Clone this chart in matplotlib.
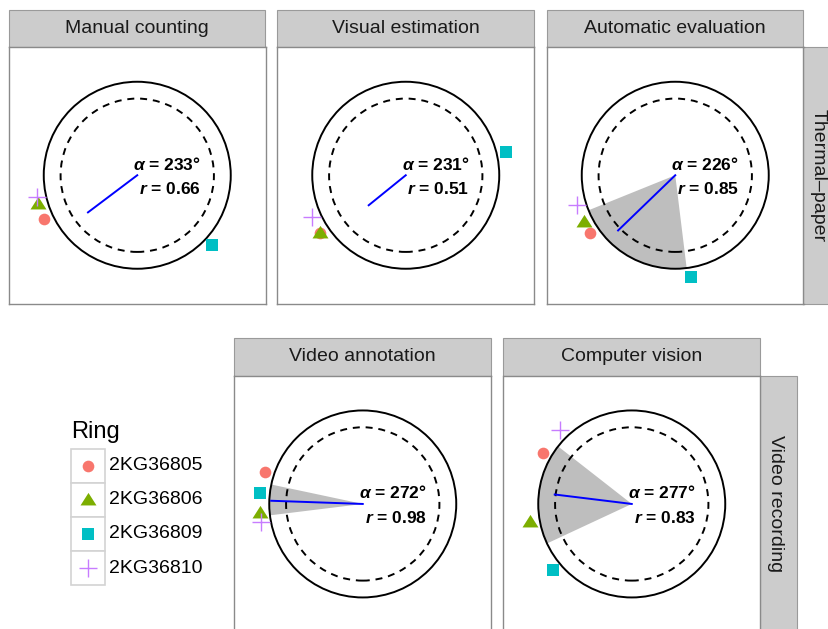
import numpy as np
import matplotlib
matplotlib.use("Agg")
import matplotlib.pyplot as plt
from matplotlib.patches import Rectangle, Polygon, Circle

plt.rcParams['font.family'] = ['Liberation Sans', 'DejaVu Sans']
plt.rcParams['mathtext.fontset'] = 'custom'
plt.rcParams['mathtext.rm'] = 'Liberation Sans'
plt.rcParams['mathtext.it'] = 'Liberation Sans:italic'
plt.rcParams['mathtext.bf'] = 'Liberation Sans:bold'
try:
    plt.rcParams['mathtext.bfit'] = 'Liberation Sans:italic:bold'
    BFIT = True
except KeyError:
    BFIT = False

# ---------------- data ----------------
rings = ["2KG36805", "2KG36806", "2KG36809", "2KG36810"]
ring_colors = ["#F8766D", "#7CAE00", "#00BFC4", "#C77CFF"]

methods = ["Manual counting", "Visual estimation", "Automatic evaluation",
           "Video annotation", "Computer vision"]
groups = ["Thermal\u2013paper", "Video recording"]

# arrival bearings (deg, clockwise from north), order of rings
angles_manual = [245, 254, 133, 258]
angles_visual = [236, 236, 77, 246]
angles_auto = [236, 243, 171, 253]
angles_video = [288, 265, 276, 260]
angles_cv = [300, 260, 230, 316]
angles = [angles_manual, angles_visual, angles_auto, angles_video, angles_cv]

mean_dir = [233, 231, 226, 272, 277]
mean_len = [0.66, 0.51, 0.85, 0.98, 0.83]
ci_low = [None, None, 173, 263, 245]
ci_high = [None, None, 248, 282, 308]

# ---------------- layout ----------------
W, H = 829, 629
fig = plt.figure(figsize=(W / 100, H / 100), dpi=100)

overlay = fig.add_axes([0, 0, 1, 1], zorder=-5)
overlay.set_xlim(0, W)
overlay.set_ylim(H, 0)
overlay.axis("off")

PSIZE = 256.5
panel_pos = [(9, 47), (277.5, 47), (547, 47), (234.5, 375.7), (503.5, 375.7)]
STRIP_H = 37.5
HALF = PSIZE / 2 / 93.5

markers = ["o", [(-1, -0.62), (1, -0.62), (0, 0.95)], "s", "+"]
msizes = [8.4, 11.5, 8.4, 13]

STRIP_FC = "#CCCCCC"
STRIP_EC = "#9A9A9A"
BORDER = "#8A8A8A"


def b2xy(b, r):
    t = np.deg2rad(np.asarray(b, dtype=float))
    return r * np.sin(t), r * np.cos(t)


def draw_marker(ax, x, y, i, **kw):
    if markers[i] == "+":
        ax.plot(x, y, marker="+", ms=msizes[i], mew=1.0, color=ring_colors[i],
                ls="none", **kw)
    else:
        ax.plot(x, y, marker=markers[i], ms=msizes[i], mew=0, color=ring_colors[i],
                ls="none", **kw)


for k, (left, top) in enumerate(panel_pos):
    ax = fig.add_axes([left / W, 1 - (top + PSIZE) / H, PSIZE / W, PSIZE / H])
    ax.set_xlim(-HALF, HALF)
    ax.set_ylim(-HALF, HALF)
    ax.set_xticks([])
    ax.set_yticks([])
    for s in ax.spines.values():
        s.set_color(BORDER)
        s.set_linewidth(1.0)

    # confidence wedge
    if ci_low[k] is not None:
        arc = np.linspace(ci_low[k], ci_high[k], 100)
        ax_, ay_ = b2xy(arc, 1.0)
        verts = [(0, 0)] + list(zip(ax_, ay_))
        ax.add_patch(Polygon(verts, closed=True, fc="#BEBEBE", ec="none", zorder=1))

    ax.add_patch(Circle((0, 0), 1.0, fill=False, ec="black", lw=1.4, zorder=3))
    ax.add_patch(Circle((0, 0), 0.82, fill=False, ec="black", lw=1.4,
                        ls=(0, (3.6, 3.0)), zorder=2))

    # mean vector
    mx, my = b2xy(mean_dir[k], mean_len[k])
    ax.plot([0, mx], [0, my], color="#0000FF", lw=1.4, zorder=4)

    # points
    for i in range(len(rings)):
        px, py = b2xy(angles[k][i], 1.1)
        draw_marker(ax, px, py, i, zorder=5, clip_on=False)

    a_lab = "$\\mathbf{\\alpha}$" if not BFIT else "$\\mathbfit{\\alpha}$"
    r_lab = "$\\mathbfit{r}$" if BFIT else "$\\mathit{r}$"
    ax.text(0.32, 0.061, f"{a_lab} = {mean_dir[k]}\u00b0", ha="center",
            va="baseline", fontsize=12.5, fontweight="bold", zorder=6)
    ax.text(0.35, -0.203, f"{r_lab} = {mean_len[k]:.2f}", ha="center",
            va="baseline", fontsize=12.5, fontweight="bold", zorder=6)

    # top strip
    overlay.add_patch(Rectangle((left, top - STRIP_H), PSIZE, STRIP_H,
                                fc=STRIP_FC, ec=STRIP_EC, lw=0.8))
    overlay.text(left + PSIZE / 2, top - STRIP_H / 2, methods[k], ha="center",
                 va="center", fontsize=14, color="#1A1A1A")

# right strips
overlay.add_patch(Rectangle((547 + PSIZE, 47), 37, PSIZE, fc=STRIP_FC, ec=STRIP_EC, lw=0.8))
overlay.text(818, 47 + PSIZE / 2, groups[0], rotation=-90,
             ha="center", va="center", fontsize=14, color="#1A1A1A")
overlay.add_patch(Rectangle((503.5 + PSIZE, 375.7), 37, PSIZE, fc=STRIP_FC, ec=STRIP_EC, lw=0.8))
overlay.text(776, 375.7 + PSIZE / 2, groups[1], rotation=-90,
             ha="center", va="center", fontsize=14, color="#1A1A1A")

# legend
leg = fig.add_axes([0, 0, 1, 1], zorder=10)
leg.set_xlim(0, W)
leg.set_ylim(H, 0)
leg.axis("off")
leg.text(71, 432, "Ring", ha="left", va="center", fontsize=17)
KEY = 34.2
ky0 = 448.5
for i, name in enumerate(rings):
    y = ky0 + i * KEY
    leg.add_patch(Rectangle((70.8, y), KEY, KEY, fc="white", ec="#D3D3D3", lw=1.2))
    draw_marker(leg, 70.8 + KEY / 2, y + KEY / 2, i)
    leg.text(109.5, y + KEY / 2, name, ha="left", va="center", fontsize=14)

fig.savefig("out.png", dpi=100)
